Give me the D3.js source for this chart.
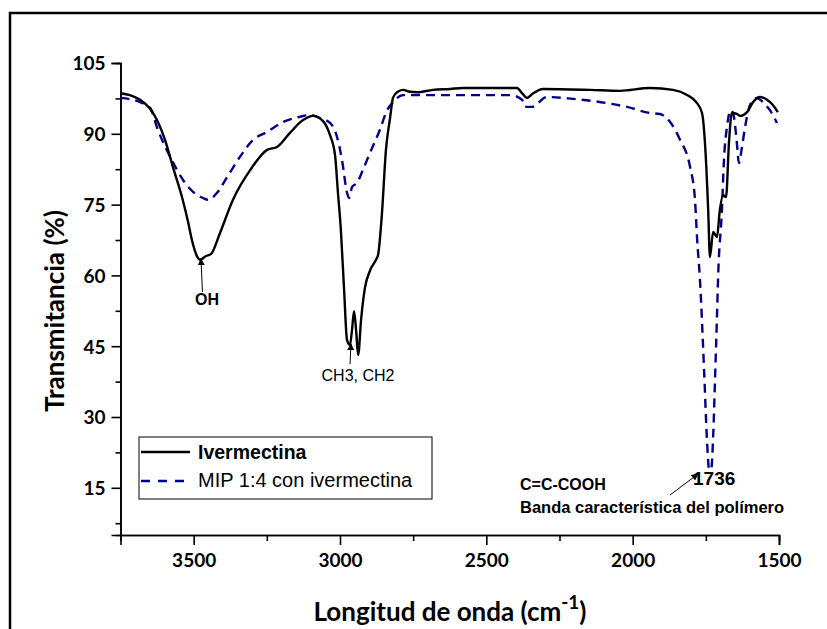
<!DOCTYPE html>
<html>
<head>
<meta charset="utf-8">
<script src="https://cdn.jsdelivr.net/npm/d3@7"></script>
<style>
  body { margin: 0; background: #fff; }
  svg { display: block; }
  .tick-label { font-family: Lato, "Open Sans", sans-serif; font-weight: bold; font-size: 19px; fill: #000; }
  .axis-title { font-family: Lato, "Open Sans", sans-serif; font-weight: bold; font-size: 26px; fill: #000; }
  .note { font-family: "Liberation Sans", Arial, sans-serif; fill: #000; }
</style>
</head>
<body>
<script>
"use strict";

// wavenumber (cm-1), transmittance (%)
const ivermectina = [
	[3750, 98.6], [3718, 98.2], [3683, 97.2], [3649, 95.3], [3622, 92.5], [3598, 88.7], [3570, 82.8],
	[3539, 76.4], [3519, 71.3], [3506, 67.5], [3489, 64.1], [3478, 63.3], [3458, 64.1], [3441, 64.5],
	[3410, 69.0], [3366, 76.0], [3307, 82.3], [3249, 86.6], [3215, 87.2], [3171, 90.2], [3126, 92.9],
	[3092, 93.8], [3058, 92.7], [3034, 89.7], [3017, 85.5], [3007, 77.5], [2997, 69.6], [2986, 56.9],
	[2976, 46.3], [2966, 45.3], [2959, 48.4], [2952, 52.4], [2945, 48.4], [2938, 43.1], [2928, 50.6],
	[2915, 57.3], [2897, 61.1], [2877, 63.3], [2870, 64.3], [2857, 72.8], [2843, 86.6], [2829, 93.3],
	[2819, 97.6], [2805, 98.8], [2785, 99.3], [2761, 98.9], [2737, 98.8], [2682, 99.3], [2624, 99.5],
	[2580, 99.7], [2395, 99.7], [2378, 98.6], [2361, 97.6], [2344, 98.4], [2306, 99.5], [2146, 99.3],
	[2043, 99.1], [1941, 99.7], [1862, 99.3], [1814, 98.2], [1780, 96.5], [1763, 94.4], [1753, 88.1],
	[1742, 73.9], [1736, 63.9], [1725, 69.2], [1712, 68.1], [1702, 73.9], [1691, 77.0], [1681, 76.6],
	[1671, 88.1], [1661, 94.4], [1644, 94.2], [1633, 93.8], [1609, 94.6], [1589, 96.7], [1565, 97.8],
	[1541, 97.2], [1521, 96.1], [1504, 94.6]
];

const mip = [
	[3750, 97.6], [3683, 96.7], [3649, 95.5], [3622, 90.8], [3580, 85.1], [3536, 80.2], [3502, 77.7],
	[3468, 76.4], [3451, 76.0], [3420, 77.5], [3386, 80.8], [3342, 85.1], [3297, 88.7], [3249, 90.4],
	[3195, 92.5], [3137, 93.6], [3102, 94.0], [3068, 93.3], [3034, 92.3], [3010, 89.3], [2993, 84.4],
	[2976, 77.5], [2969, 76.4], [2959, 78.7], [2942, 79.6], [2922, 82.3], [2898, 85.9], [2864, 90.8],
	[2839, 95.0], [2819, 96.7], [2785, 98.2], [2624, 98.2], [2419, 98.2], [2378, 97.2], [2368, 95.7],
	[2344, 95.7], [2293, 97.8], [2204, 97.4], [2088, 96.5], [2019, 95.7], [1941, 94.4], [1907, 94.2],
	[1872, 92.5], [1838, 88.7], [1804, 83.0], [1787, 76.0], [1780, 68.0], [1770, 59.0], [1756, 40.0],
	[1746, 25.0], [1739, 19.0], [1732, 18.8], [1725, 25.8], [1719, 37.2], [1712, 51.2], [1708, 59.7],
	[1695, 73.9], [1688, 84.5], [1678, 91.4], [1664, 95.0], [1654, 93.6], [1644, 88.1], [1637, 83.8],
	[1627, 87.0], [1616, 91.4], [1599, 96.1], [1575, 97.6], [1555, 96.7], [1531, 95.0], [1507, 92.3]
];

const xMajor = [3500, 3000, 2500, 2000, 1500];
const xMinor = [3750, 3250, 2750, 2250, 1750];
const yMajor = [15, 30, 45, 60, 75, 90, 105];
const yMinor = [7.5, 22.5, 37.5, 52.5, 67.5, 82.5, 97.5];

const seriesNames = ["Ivermectina", "MIP 1:4 con ivermectina"];

const W = 827, H = 629;
const x = d3.scaleLinear().domain([3750, 1500]).range([120.5, 779]);
const y = d3.scaleLinear().domain([5, 105]).range([535, 63]);

const svg = d3.select("body").append("svg").attr("width", W).attr("height", H);

// outer frame of the figure
svg.append("rect")
	.attr("x", 10).attr("y", 13)
	.attr("width", W + 20).attr("height", H + 20)
	.attr("fill", "none").attr("stroke", "#000").attr("stroke-width", 2.5);

const defs = svg.append("defs");
defs.append("marker")
	.attr("id", "head")
	.attr("viewBox", "0 0 10 10")
	.attr("refX", 9).attr("refY", 5)
	.attr("markerWidth", 7).attr("markerHeight", 7)
	.attr("markerUnits", "userSpaceOnUse")
	.attr("orient", "auto")
	.append("path").attr("d", "M0,0 L10,5 L0,10 Z").attr("fill", "#000");

// axes
const yAxis = d3.axisLeft(y).tickValues(yMajor).tickSize(9).tickPadding(6).tickFormat(d3.format("d"));
const yAxisMinor = d3.axisLeft(y).tickValues(yMinor).tickSize(5).tickFormat("");
const xAxis = d3.axisBottom(x).tickValues(xMajor).tickSize(10).tickPadding(9).tickFormat(d3.format("d"));
const xAxisMinor = d3.axisBottom(x).tickValues(xMinor).tickSize(6).tickFormat("");

function styleAxis(g) {
	g.select(".domain").attr("stroke", "#000").attr("stroke-width", 1.6);
	g.selectAll(".tick line").attr("stroke", "#000").attr("stroke-width", 1.6);
	g.selectAll(".tick text").attr("class", "tick-label").attr("font-family", null).attr("font-size", null);
}

svg.append("g").attr("transform", "translate(120.5,0)").call(yAxisMinor).call(styleAxis);
svg.append("g").attr("transform", "translate(120.5,0)").call(yAxis).call(styleAxis)
	.selectAll(".tick text").attr("dy", "0.36em");
svg.append("g").attr("transform", "translate(0,535)").call(xAxisMinor).call(styleAxis);
svg.append("g").attr("transform", "translate(0,535)").call(xAxis).call(styleAxis);

// axis titles
svg.append("text").attr("class", "axis-title")
	.attr("transform", "translate(64,311) rotate(-90)")
	.attr("text-anchor", "middle")
	.text("Transmitancia (%)");

const xt = svg.append("text").attr("class", "axis-title")
	.attr("x", 450).attr("y", 621)
	.attr("text-anchor", "middle");
xt.append("tspan").text("Longitud de onda (cm");
xt.append("tspan").attr("dy", -12).attr("font-size", 19).text("-1");
xt.append("tspan").attr("dy", 12).text(")");

// spectra
const line = d3.line()
	.x(d => x(d[0]))
	.y(d => y(d[1]))
	.curve(d3.curveMonotoneX);

svg.append("path").datum(mip)
	.attr("d", line)
	.attr("fill", "none")
	.attr("stroke", "#00008b")
	.attr("stroke-width", 2.4)
	.attr("stroke-dasharray", "9,6");

svg.append("path").datum(ivermectina)
	.attr("d", line)
	.attr("fill", "none")
	.attr("stroke", "#000")
	.attr("stroke-width", 2.4);

// annotations
function arrow(x1, y1, x2, y2) {
	svg.append("line")
		.attr("x1", x1).attr("y1", y1).attr("x2", x2).attr("y2", y2)
		.attr("stroke", "#000").attr("stroke-width", 1)
		.attr("marker-end", "url(#head)");
}

function note(text, px, py, size, bold) {
	return svg.append("text").attr("class", "note")
		.attr("x", px).attr("y", py)
		.style("font-size", `${size}px`)
		.style("font-weight", bold ? "bold" : "normal")
		.text(text);
}

arrow(x(3470), 292, x(3475), y(63.5));
note("OH", 207, 305, 16, true).attr("text-anchor", "middle");

arrow(350, 364, 351, y(45.5));
note("CH3, CH2", 358, 381, 16, false).attr("text-anchor", "middle");

arrow(670, 495, 698, 474);
note("1736", 693, 485, 19, true);
note("C=C-COOH", 520, 490, 16, true);
note("Banda característica del polímero", 520, 513, 16.5, true);

// legend
const legend = svg.append("g");
legend.append("rect")
	.attr("x", 139).attr("y", 437).attr("width", 293).attr("height", 62)
	.attr("fill", "#fff").attr("stroke", "#000").attr("stroke-width", 1);
legend.append("line")
	.attr("x1", 141).attr("x2", 190).attr("y1", 452).attr("y2", 452)
	.attr("stroke", "#000").attr("stroke-width", 2.4);
legend.append("line")
	.attr("x1", 141).attr("x2", 190).attr("y1", 481).attr("y2", 481)
	.attr("stroke", "#00008b").attr("stroke-width", 2.4).attr("stroke-dasharray", "9,8");
legend.append("text").attr("class", "note")
	.style("font-size", "19.5px").style("font-weight", "bold")
	.attr("x", 198).attr("y", 459).text(seriesNames[0]);
legend.append("text").attr("class", "note")
	.style("font-size", "20px").style("font-weight", "normal")
	.attr("x", 198).attr("y", 487).text(seriesNames[1]);
</script>
</body>
</html>
